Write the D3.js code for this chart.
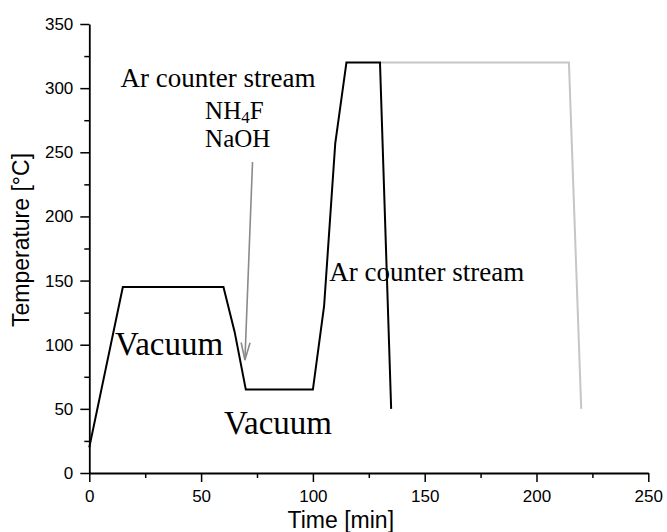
<!DOCTYPE html>
<html>
<head>
<meta charset="utf-8">
<script src="https://cdn.jsdelivr.net/npm/d3@7"></script>
<style>
  html, body { margin: 0; padding: 0; background: #fff; }
  svg { display: block; }
</style>
</head>
<body>
<svg id="chart" width="667" height="532"></svg>
<script>
// ---- data ----
const blackTime = [0, 15, 60, 65, 70, 100, 105, 110, 115, 130, 135];
const blackTemp = [20, 145, 145, 110, 65, 65, 130, 257, 320, 320, 50];
const grayTime = [130, 214.5, 220];
const grayTemp = [320, 320, 50];
const xTickValues = [0, 50, 100, 150, 200, 250];
const xMinorTicks = [25, 75, 125, 175, 225];
const yTickValues = [0, 50, 100, 150, 200, 250, 300, 350];
const yMinorTicks = [25, 75, 125, 175, 225, 275, 325];
const xLabel = "Time [min]";
const yLabel = "Temperature [°C]";
const arrowFrom = [73, 242.5];
const arrowTo = [69.6, 88];

// ---- layout ----
const W = 667, H = 532;
const margin = { left: 89.3, right: 18.7, top: 24, bottom: 59 };
const svg = d3.select("#chart");
const x = d3.scaleLinear().domain([0, 250]).range([margin.left, W - margin.right]);
const y = d3.scaleLinear().domain([0, 350]).range([H - margin.bottom, margin.top]);

const SANS = "'Liberation Sans', Arial, sans-serif";
const SERIF = "'Liberation Serif', 'Times New Roman', serif";

// minor ticks
svg.append("g")
  .attr("transform", `translate(0,${y(0)})`)
  .call(d3.axisBottom(x).tickValues(xMinorTicks).tickSize(5).tickFormat(""))
  .call(g => g.select(".domain").remove())
  .call(g => g.selectAll("line").attr("stroke", "#000").attr("stroke-width", 1.5));
svg.append("g")
  .attr("transform", `translate(${x(0)},0)`)
  .call(d3.axisLeft(y).tickValues(yMinorTicks).tickSize(5).tickFormat(""))
  .call(g => g.select(".domain").remove())
  .call(g => g.selectAll("line").attr("stroke", "#000").attr("stroke-width", 1.5));

// major axes
const xAxis = svg.append("g")
  .attr("transform", `translate(0,${y(0)})`)
  .call(d3.axisBottom(x).tickValues(xTickValues).tickSize(9).tickSizeOuter(0).tickPadding(8));
const yAxis = svg.append("g")
  .attr("transform", `translate(${x(0)},0)`)
  .call(d3.axisLeft(y).tickValues(yTickValues).tickSize(9).tickSizeOuter(0).tickPadding(7));
[xAxis, yAxis].forEach(g => {
  g.select(".domain").attr("stroke", "#000").attr("stroke-width", 1.8);
  g.selectAll(".tick line").attr("stroke", "#000").attr("stroke-width", 1.5);
  g.selectAll(".tick text").attr("fill", "#000").style("font-family", SANS).style("font-size", "17px");
});

// axis titles
svg.append("text")
  .attr("x", (x(0) + x(250)) / 2 - 28)
  .attr("y", 528)
  .attr("text-anchor", "middle")
  .style("font-family", SANS).style("font-size", "23px")
  .text(xLabel);
svg.append("text")
  .attr("transform", `translate(29,${240}) rotate(-90)`)
  .attr("text-anchor", "middle")
  .style("font-family", SANS).style("font-size", "23px")
  .text(yLabel);

// lines
const line = d3.line().x(d => x(d[0])).y(d => y(d[1]));
svg.append("path")
  .datum(grayTime.map((t, i) => [t, grayTemp[i]]))
  .attr("d", line)
  .attr("fill", "none").attr("stroke", "#c6c6c6").attr("stroke-width", 2);
svg.append("path")
  .datum(blackTime.map((t, i) => [t, blackTemp[i]]))
  .attr("d", line)
  .attr("fill", "none").attr("stroke", "#000").attr("stroke-width", 2).attr("stroke-linejoin", "miter");

// arrow
{
  const x1 = x(arrowFrom[0]), y1 = y(arrowFrom[1]);
  const x2 = x(arrowTo[0]), y2 = y(arrowTo[1]);
  const ang = Math.atan2(y2 - y1, x2 - x1);
  const len = 18, spread = 0.25;
  const g = svg.append("g").attr("stroke", "#8a8a8a").attr("stroke-width", 1.6).attr("fill", "none");
  g.append("line").attr("x1", x1).attr("y1", y1).attr("x2", x2).attr("y2", y2);
  g.append("path").attr("d",
    `M${x2 - len * Math.cos(ang - spread)},${y2 - len * Math.sin(ang - spread)} L${x2},${y2} L${x2 - len * Math.cos(ang + spread)},${y2 - len * Math.sin(ang + spread)}`);
}

// annotations (positions in data units)
const ann = svg.append("g").style("font-family", SERIF).attr("fill", "#000");
function addText(t, dx, dy, size) {
  return ann.append("text").attr("x", x(dx)).attr("y", y(dy)).style("font-size", size + "px").text(t);
}
addText("Ar counter stream", 14.0, 301.1, 27);
const nh = addText("NH", 51.8, 275.9, 25);
nh.append("tspan").attr("dy", 4).style("font-size", "17px").text("4");
nh.append("tspan").attr("dy", -4).text("F");
addText("NaOH", 51.8, 253.8, 25);
addText("Vacuum", 11.5, 91.9, 33);
addText("Vacuum", 60.2, 30.4, 33);
addText("Ar counter stream", 107.3, 149.9, 27);
</script>
</body>
</html>
